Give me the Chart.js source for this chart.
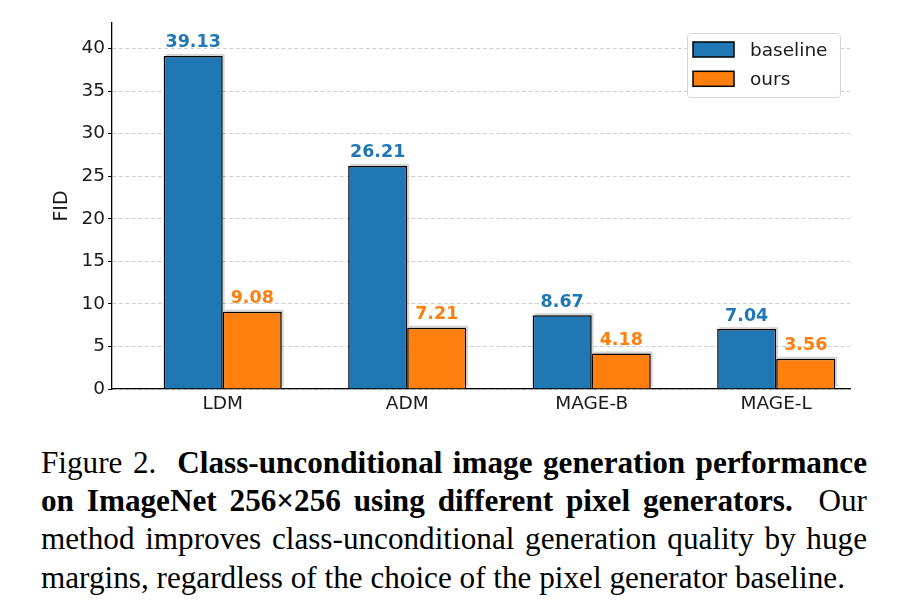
<!DOCTYPE html>
<html>
<head>
<meta charset="utf-8">
<script src="https://cdn.jsdelivr.net/npm/chart.js@4.4.1/dist/chart.umd.min.js"></script>
<style>
  html, body { margin: 0; padding: 0; background: #fff; }
  body { width: 911px; height: 613px; position: relative; overflow: hidden; }
  #fidChart { position: absolute; left: 0; top: 0; }
  #caption {
    position: absolute; left: 41px; top: 443.5px; width: 826px;
    font-family: "Liberation Serif", "Times New Roman", serif;
    font-size: 31.2px; line-height: 38.4px; color: #000;
  }
  #caption div { white-space: nowrap; text-align: justify; text-align-last: justify; }
  #caption div.last { text-align-last: left; }
</style>
</head>
<body>
<canvas id="fidChart" width="911" height="425"></canvas>
<div id="caption">
  <div>Figure 2.&nbsp; <b>Class-unconditional image generation performance</b></div>
  <div><b>on ImageNet 256×256 using different pixel generators.</b>&nbsp; Our</div>
  <div>method improves class-unconditional generation quality by huge</div>
  <div class="last">margins, regardless of the choice of the pixel generator baseline.</div>
</div>
<script>
// values
const categories = ["LDM", "ADM", "MAGE-B", "MAGE-L"];
const baselineFID = [39.13, 26.21, 8.67, 7.04];
const oursFID = [9.08, 7.21, 4.18, 3.56];
const yTicks = [0, 5, 10, 15, 20, 25, 30, 35, 40];

const BLUE = "#1f77b4";
const ORANGE = "#ff7f0e";
const TICK_FONT = { family: "'DejaVu Sans', sans-serif", size: 18.5 };

// little drop shadow behind each bar (up and to the right)
const barShadow = {
  id: "barShadow",
  beforeDatasetsDraw(chart) {
    const ctx = chart.ctx;
    ctx.save();
    ctx.fillStyle = "rgba(0,0,0,0.16)";
    chart.data.datasets.forEach((ds, i) => {
      chart.getDatasetMeta(i).data.forEach((bar) => {
        const w = bar.width;
        ctx.fillRect(bar.x - w / 2 + 2, bar.y - 2, w, bar.base - bar.y);
      });
    });
    ctx.restore();
  },
};

// value printed above every bar
const valueLabels = {
  id: "valueLabels",
  afterDatasetsDraw(chart) {
    const ctx = chart.ctx;
    ctx.save();
    ctx.font = "bold 17.5px 'DejaVu Sans', sans-serif";
    ctx.textAlign = "center";
    ctx.textBaseline = "alphabetic";
    chart.data.datasets.forEach((ds, i) => {
      ctx.fillStyle = ds.backgroundColor;
      chart.getDatasetMeta(i).data.forEach((bar, j) => {
        ctx.fillText(ds.data[j].y.toFixed(2), bar.x, bar.y - 8.5);
      });
    });
    ctx.restore();
  },
};

// matplotlib style legend box in the upper right corner
const boxLegend = {
  id: "boxLegend",
  afterDraw(chart) {
    const ctx = chart.ctx;
    const area = chart.chartArea;
    const w = 153, h = 64;
    const x = area.right - 10 - w, y = area.top + 10;
    ctx.save();
    ctx.beginPath();
    ctx.roundRect(x + 0.5, y + 0.5, w, h, 3);
    ctx.fillStyle = "rgba(255,255,255,0.9)";
    ctx.fill();
    ctx.strokeStyle = "#d6d6d6";
    ctx.lineWidth = 1;
    ctx.stroke();
    ctx.font = "18.5px 'DejaVu Sans', sans-serif";
    ctx.textBaseline = "alphabetic";
    chart.data.datasets.forEach((ds, i) => {
      const py = y + 9 + i * 29.3;
      ctx.fillStyle = ds.backgroundColor;
      ctx.fillRect(x + 6, py, 41, 15);
      ctx.strokeStyle = "#000";
      ctx.lineWidth = 1.5;
      ctx.strokeRect(x + 6, py, 41, 15);
      ctx.fillStyle = "#1a1a1a";
      ctx.fillText(ds.label, x + 63, py + 14);
    });
    ctx.restore();
  },
};

const ctx = document.getElementById("fidChart").getContext("2d");
const fidChart = new Chart(ctx, {
  type: "bar",
  data: {
    datasets: [
      {
        label: "baseline",
        data: baselineFID.map((v, i) => ({ x: i, y: v })),
        backgroundColor: BLUE,
        borderColor: "#000",
        borderWidth: 1.5,
      },
      {
        label: "ours",
        data: oursFID.map((v, i) => ({ x: i, y: v })),
        backgroundColor: ORANGE,
        borderColor: "#000",
        borderWidth: 1.5,
      },
    ],
  },
  options: {
    responsive: false,
    animation: false,
    devicePixelRatio: 1,
    categoryPercentage: 0.64,
    barPercentage: 1.0,
    layout: { padding: { top: 23, right: 61, left: 0, bottom: 0 } },
    plugins: {
      legend: { display: false },
      tooltip: { enabled: false },
    },
    scales: {
      x: {
        type: "linear",
        offset: false,
        min: -0.6,
        max: 3.4,
        afterBuildTicks: (axis) => {
          axis.ticks = categories.map((c, i) => ({ value: i }));
        },
        afterFit: (axis) => {
          axis.height = 36;
        },
        grid: { display: false, drawTicks: false, offset: false },
        border: { display: true, color: "#000", width: 1.3 },
        ticks: {
          padding: 4,
          color: "#1a1a1a",
          font: TICK_FONT,
          maxRotation: 0,
          callback: (value) => categories[value],
        },
      },
      y: {
        min: 0,
        max: 43,
        afterBuildTicks: (axis) => {
          axis.ticks = yTicks.map((v) => ({ value: v }));
        },
        afterFit: (axis) => {
          axis.width = 112;
        },
        grid: {
          color: "#cfcfcf",
          lineWidth: 1,
          drawTicks: true,
          tickLength: 4,
          tickColor: "#000",
          tickWidth: 1,
        },
        border: { display: true, color: "#000", width: 1.3, dash: [4, 2.5] },
        ticks: {
          padding: 3,
          color: "#1a1a1a",
          font: TICK_FONT,
        },
        title: {
          display: true,
          text: "FID",
          color: "#1a1a1a",
          font: { family: "'DejaVu Sans', sans-serif", size: 19 },
          padding: { top: 50.5, bottom: 0 },
        },
      },
    },
  },
  plugins: [barShadow, valueLabels, boxLegend],
});
</script>
</body>
</html>
